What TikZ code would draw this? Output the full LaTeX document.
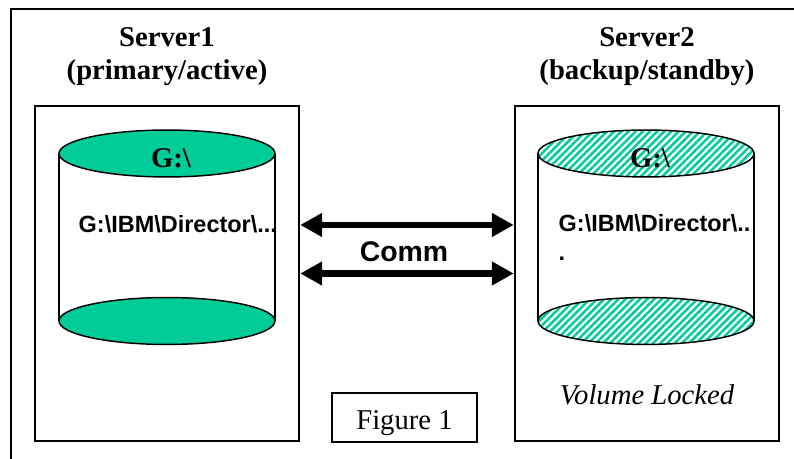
\documentclass[tikz,border=0pt]{standalone}
\usepackage{fontspec}
\setmainfont{Liberation Serif}
\setsansfont{Liberation Sans}
\usetikzlibrary{calc,arrows.meta,patterns.meta}
\definecolor{seagreen}{HTML}{00CC99}

\begin{document}
\begin{tikzpicture}[x=0.75pt,y=-0.75pt,line width=1.1pt,
  >={Triangle[length=16.5pt,width=17pt]},
  srvbox/.style={draw,line width=1.8pt,minimum width=198pt,minimum height=251pt,inner sep=0pt},
  title/.style={font=\bfseries\fontsize{21.5}{25}\selectfont,anchor=base,inner sep=0pt},
  pathtext/.style={font=\sffamily\bfseries\fontsize{17.6}{21.75}\selectfont,anchor=base west,inner sep=0pt,align=left},
  locked/.style={pattern={Lines[angle=45,distance=3.8pt,line width=1.9pt]},pattern color=seagreen},
  comm/.style={<->,line width=5pt}]
  \useasboundingbox (0,0) rectangle (794,459);
  % outer frame, cut by the page
  \begin{scope}
    \clip (0,0) rectangle (794,459);
    \draw[line width=1.8pt] (11,9) rectangle (830,490);
  \end{scope}
  \node[title] (t1) at (167,47) {Server1};
  \node[title] (t1b) at (167,80) {(primary/active)};
  \node[title] (t2) at (647,47) {Server2};
  \node[title] (t2b) at (647,80) {(backup/standby)};
  \node[srvbox] (srv1) at (167,273.5) {};
  \node[srvbox] (srv2) at (647,273.5) {};
  % disk of server1
  \fill[white] (59,153.5) rectangle (275,321);
  \draw (59,153.5) -- (59,321) (275,153.5) -- (275,321);
  \draw[fill=seagreen] (167,321) ellipse [x radius=81pt,y radius=17.6pt];
  \draw[fill=seagreen] (167,153.5) ellipse [x radius=81pt,y radius=17.6pt];
  \node[title] (g1) at (171,168) {G:\textbackslash};
  \node[pathtext] (p1) at (78,233) {G:\textbackslash IBM\textbackslash Director\textbackslash ...};
  % disk of server2, locked
  \fill[white] (538,153.5) rectangle (754,321);
  \draw (538,153.5) -- (538,321) (754,153.5) -- (754,321);
  \draw[locked] (646,321) ellipse [x radius=81pt,y radius=17.6pt];
  \draw[locked] (646,153.5) ellipse [x radius=81pt,y radius=17.6pt];
  \node[title] (g2) at (650,168) {G:\textbackslash};
  \node[pathtext] (p2) at (558,261) {G:\textbackslash IBM\textbackslash Director\textbackslash ..\\.};
  \node[title,font=\itshape\fontsize{21.5}{25}\selectfont] (vl) at (647,405) {Volume Locked};
  % comm links
  \draw[comm] ([yshift=36.4pt]srv1.east) -- ([yshift=36.4pt]srv2.west);
  \draw[comm] (srv1.east) -- (srv2.west);
  \node[title,font=\sffamily\bfseries\fontsize{21.3}{25}\selectfont] (comm) at (404,262) {Comm};
  \node[draw,line width=1.3pt,minimum width=108.75pt,minimum height=36.75pt,inner sep=0pt,
    text height=18pt,text depth=0pt,font=\fontsize{21.5}{25}\selectfont] (fig) at (404.5,417.5) {Figure 1};
\end{tikzpicture}
\end{document}
